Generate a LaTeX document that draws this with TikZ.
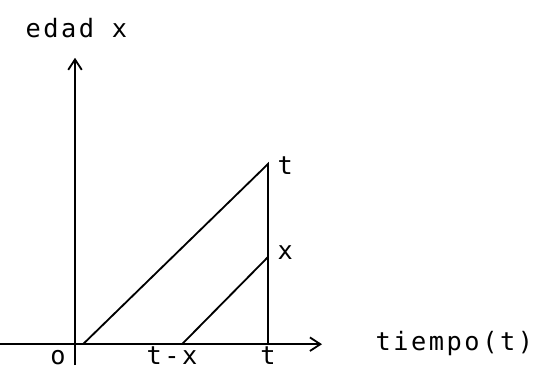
\documentclass[tikz,border=0pt]{standalone}
\usepackage{fontspec}
\usetikzlibrary{arrows.meta,calc}
\newfontfamily\typefont[LetterSpace=10]{DejaVu Sans Mono}
\tikzset{
  axis/.style={-{Straight Barb[length=2.6mm,width=3.4mm]},line width=1.3pt,draw=black},
  life/.style={line width=1.3pt,draw=black},
  lbl/.style={font=\typefont\fontsize{18}{20}\selectfont,text=black,inner sep=1pt}
}
\begin{document}
\begin{tikzpicture}[x=1cm,y=1cm]
  \useasboundingbox (0,0) rectangle (13.45,9.225);
  % axes
  \coordinate (xstart) at (0,0.62);
  \coordinate (xend) at (8.05,0.62);
  \coordinate (ystart) at (1.875,0.1);
  \coordinate (yend) at (1.875,7.78);
  \draw[axis] (xstart) -- (xend);
  \draw[axis] (ystart) -- (yend);
  % life lines
  \coordinate (born0) at (2.075,0.62);
  \coordinate (bornx) at (4.55,0.62);
  \coordinate (now) at (6.7,0.62);
  \coordinate (topt) at (6.7,5.125);
  \coordinate (topx) at (6.7,2.8);
  \draw[life] (born0) -- (topt) -- (now);
  \draw[life] (bornx) -- (topx);
  % labels
  \node[lbl,anchor=west] (lt) at ($(topt)+(0.2,-0.05)$) {t};
  \node[lbl,anchor=west] (lx) at ($(topx)+(0.2,0.1)$) {x};
  \node[lbl,anchor=south] (lo) at (1.45,0.06) {o};
  \node[lbl,anchor=south] (ltx) at (4.3,0.06) {t-x};
  \node[lbl,anchor=south] (ltt) at (6.7,0.06) {t};
  \node[lbl,anchor=west] (ltime) at (9.35,0.64) {tiempo(t)};
  \node[lbl,anchor=west] (lage) at (0.6,8.52) {edad x};
\end{tikzpicture}
\end{document}
